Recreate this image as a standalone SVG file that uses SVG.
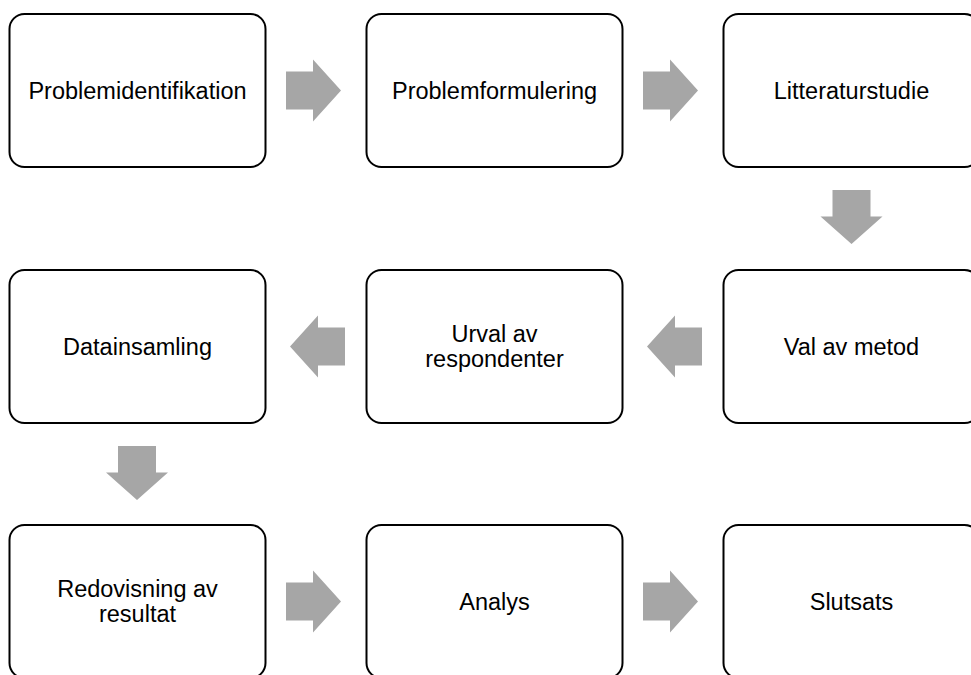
<svg xmlns="http://www.w3.org/2000/svg" width="971" height="675" viewBox="0 0 971 675">
<style>
.box{fill:#fff;stroke:#000;stroke-width:2}
.lbl{font-family:"Liberation Sans",Arial,sans-serif;font-size:23.5px;fill:#000;text-anchor:middle}
.arr{fill:#a6a6a6;stroke:none}
</style>
<defs>
<path id="ar" d="M0,-19 H27 V-31 L55,0 L27,31 V19 H0 Z"/>
</defs>
<rect width="971" height="675" fill="#fff"/>
<g id="connectors">
<use href="#ar" class="arr" transform="translate(286,90.5)"/>
<use href="#ar" class="arr" transform="translate(643,90.5)"/>
<use href="#ar" class="arr" transform="translate(851.5,190) rotate(90) scale(0.98,1)"/>
<use href="#ar" class="arr" transform="translate(702,346.5) scale(-1,1)"/>
<use href="#ar" class="arr" transform="translate(345,346.5) scale(-1,1)"/>
<use href="#ar" class="arr" transform="translate(137,446) rotate(90) scale(0.98,1)"/>
<use href="#ar" class="arr" transform="translate(286,601.5)"/>
<use href="#ar" class="arr" transform="translate(643,601.5)"/>
</g>
<g id="n1"><rect class="box" x="9.5" y="14" width="256" height="153" rx="15"/><text class="lbl" x="137.5" y="98.5">Problemidentifikation</text></g>
<g id="n2"><rect class="box" x="366.5" y="14" width="256" height="153" rx="15"/><text class="lbl" x="494.5" y="98.5">Problemformulering</text></g>
<g id="n3"><rect class="box" x="723.5" y="14" width="256" height="153" rx="15"/><text class="lbl" x="851.5" y="98.5">Litteraturstudie</text></g>
<g id="n4"><rect class="box" x="723.5" y="270" width="256" height="153" rx="15"/><text class="lbl" x="851.5" y="354.5">Val av metod</text></g>
<g id="n5"><rect class="box" x="366.5" y="270" width="256" height="153" rx="15"/><text class="lbl" x="494.5" y="342">Urval av</text><text class="lbl" x="494.5" y="367">respondenter</text></g>
<g id="n6"><rect class="box" x="9.5" y="270" width="256" height="153" rx="15"/><text class="lbl" x="137.5" y="354.5">Datainsamling</text></g>
<g id="n7"><rect class="box" x="9.5" y="525" width="256" height="153" rx="15"/><text class="lbl" x="137.5" y="597">Redovisning av</text><text class="lbl" x="137.5" y="622">resultat</text></g>
<g id="n8"><rect class="box" x="366.5" y="525" width="256" height="153" rx="15"/><text class="lbl" x="494.5" y="609.5">Analys</text></g>
<g id="n9"><rect class="box" x="723.5" y="525" width="256" height="153" rx="15"/><text class="lbl" x="851.5" y="609.5">Slutsats</text></g>
</svg>
